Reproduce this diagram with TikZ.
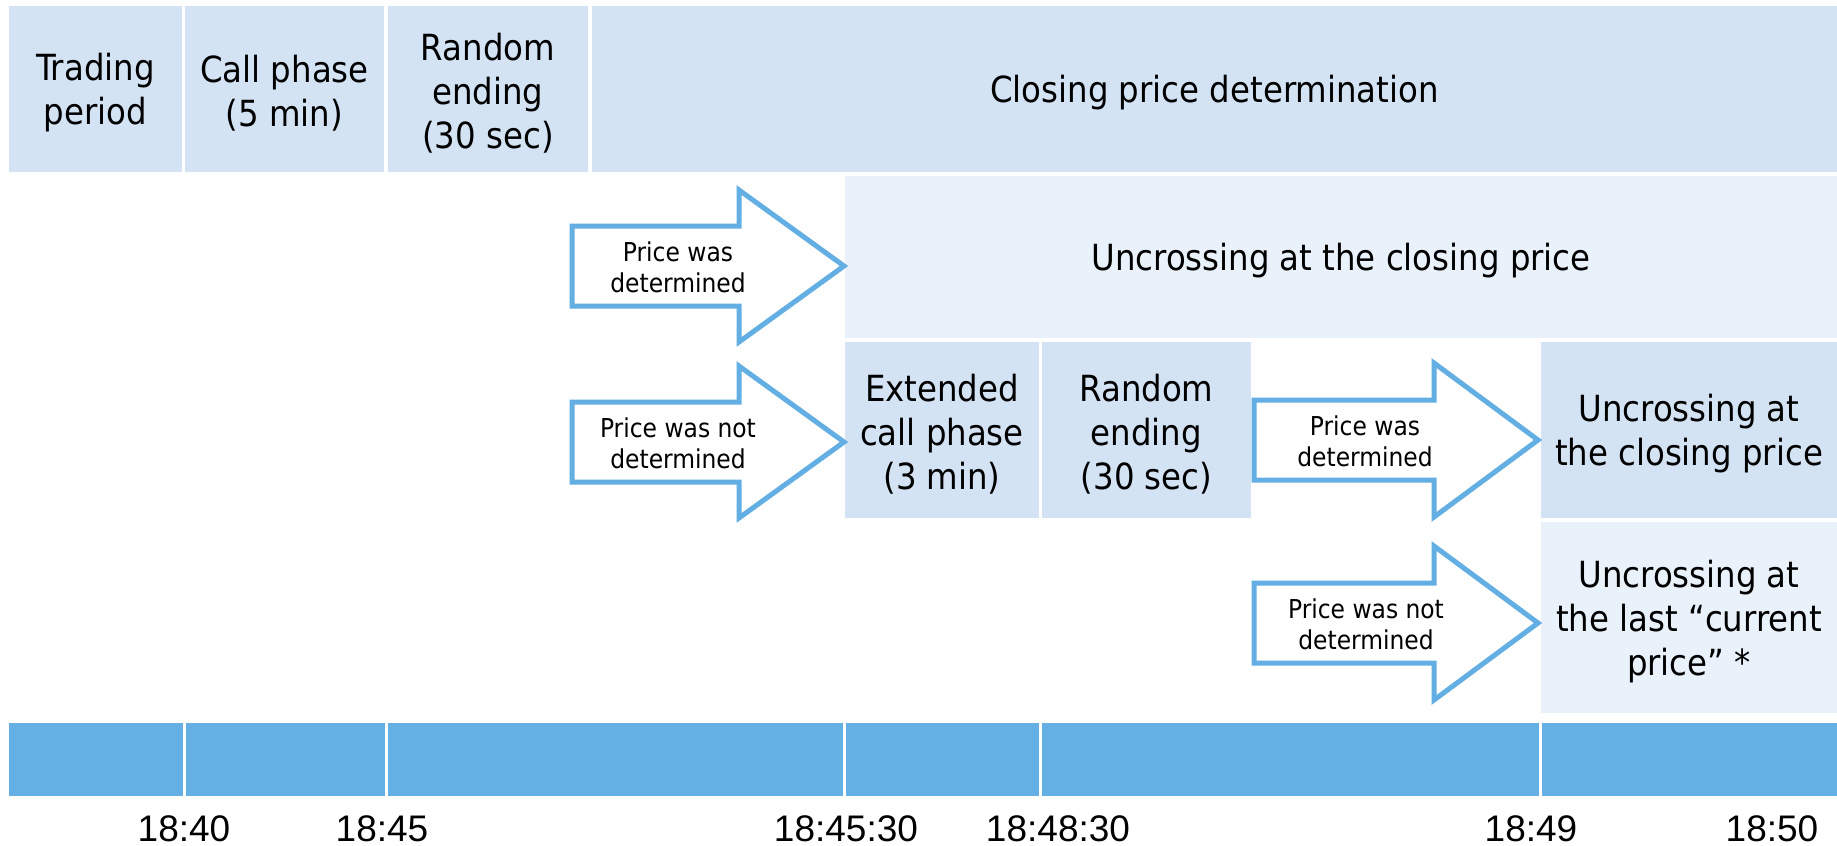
\documentclass[tikz,border=0pt]{standalone}
\usepackage{fontspec}
\setmainfont{DejaVu Sans Condensed}
\newfontfamily\timefont{Liberation Sans}
\definecolor{cellblue}{RGB}{211,227,243}
\definecolor{paleblue}{RGB}{233,241,250}
\definecolor{barblue}{RGB}{100,176,228}
\definecolor{arrowblue}{RGB}{99,174,226}
\tikzset{
  box/.style={fill=cellblue, draw=none, inner sep=0pt},
  palebox/.style={box, fill=paleblue},
  boxtext/.style={align=center, inner sep=0pt, yshift=-4pt, font=\fontsize{36}{44}\selectfont},
  barcell/.style={fill=barblue, draw=none, inner sep=0pt, minimum height=73pt},
  blockarrow/.style={draw=arrowblue, line width=5pt, fill=white, line join=miter},
  arrowtext/.style={align=center, inner sep=0pt, font=\fontsize{26}{31}\selectfont},
  timelabel/.style={anchor=base, inner sep=0pt, font=\timefont\fontsize{37}{44}\selectfont},
}
\begin{document}
\begin{tikzpicture}[x=1pt, y=-1pt]
\useasboundingbox[fill=white] (0,0) rectangle (1837,846);
% top row
\node[box, minimum width=173pt, minimum height=166pt, label={[boxtext]center:Trading\\period}] (trade) at (95.5,89) {};
\node[box, minimum width=199pt, minimum height=166pt, label={[boxtext]center:Call phase\\(5 min)}] (call) at (284.5,89) {};
\node[box, minimum width=200pt, minimum height=166pt, label={[boxtext]center:Random\\ending\\(30 sec)}] (rand) at (488,89) {};
\node[box, minimum width=1245pt, minimum height=166pt, label={[boxtext]center:Closing price determination}] (close) at (1214.5,89) {};
% row 2
\node[palebox, minimum width=992pt, minimum height=162pt, label={[boxtext]center:Uncrossing at the closing price}] (unca) at (1341,257) {};
% row 3
\node[box, minimum width=194pt, minimum height=176pt, label={[boxtext]center:Extended\\call phase\\(3 min)}] (ext) at (942,430) {};
\node[box, minimum width=209pt, minimum height=176pt, label={[boxtext]center:Random\\ending\\(30 sec)}] (randb) at (1146.5,430) {};
\node[box, minimum width=296pt, minimum height=176pt, label={[boxtext]center:Uncrossing at\\the closing price}] (uncb) at (1689,430) {};
% row 4
\node[palebox, minimum width=296pt, minimum height=191pt, label={[boxtext]center:Uncrossing at\\the last “current\\price” *}] (uncc) at (1689,617.5) {};
% arrows
\draw[blockarrow] (572,226) -- (739,226) -- (739,190) -- (844,266) -- (739,342) -- (739,306) -- (572,306) -- cycle;
\node[arrowtext] (ta) at (678,267) {Price was\\determined};
\draw[blockarrow] (572,402) -- (739,402) -- (739,366) -- (844,442) -- (739,518) -- (739,482) -- (572,482) -- cycle;
\node[arrowtext] (tb) at (678,443) {Price was not\\determined};
\draw[blockarrow] (1254,400) -- (1434,400) -- (1434,363) -- (1538,440) -- (1434,517) -- (1434,480) -- (1254,480) -- cycle;
\node[arrowtext] (tc) at (1365,441) {Price was\\determined};
\draw[blockarrow] (1254,583) -- (1434,583) -- (1434,546) -- (1538,623) -- (1434,700) -- (1434,663) -- (1254,663) -- cycle;
\node[arrowtext] (td) at (1366,624) {Price was not\\determined};
% bar
\node[barcell, minimum width=173.5pt] (b1) at (95.75,759.5) {};
\node[barcell, minimum width=199.5pt] (b2) at (285.25,759.5) {};
\node[barcell, minimum width=454.5pt] (b3) at (615.25,759.5) {};
\node[barcell, minimum width=193.5pt] (b4) at (942.25,759.5) {};
\node[barcell, minimum width=496.5pt] (b5) at (1290.25,759.5) {};
\node[barcell, minimum width=295.5pt] (b6) at (1689.25,759.5) {};
% time labels
\node[timelabel] (t1) at (184,841) {18:40};
\node[timelabel] (t2) at (382,841) {18:45};
\node[timelabel] (t3) at (846,841) {18:45:30};
\node[timelabel] (t4) at (1058,841) {18:48:30};
\node[timelabel] (t5) at (1531,841) {18:49};
\node[timelabel] (t6) at (1772,841) {18:50};
\end{tikzpicture}
\end{document}
